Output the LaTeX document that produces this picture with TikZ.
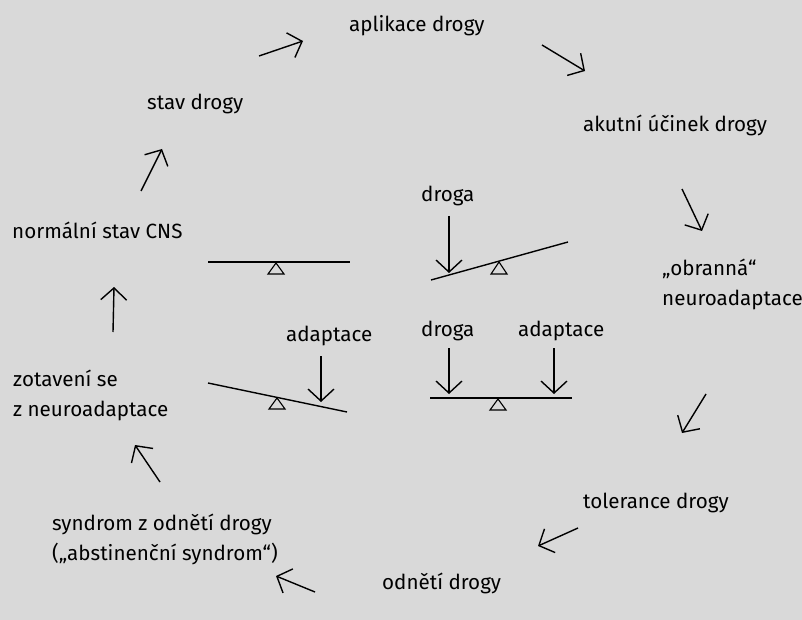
\documentclass[tikz,border=0pt]{standalone}
\usepackage{fontspec}
\setmainfont{Fira Sans}
\usetikzlibrary{arrows.meta}
\definecolor{bggray}{HTML}{D9D9D9}
\begin{document}
\begin{tikzpicture}[x=1pt,y=-1pt,
  txt/.style={anchor=base west,inner sep=0pt,align=left,font=\fontsize{20.6}{29.5}\selectfont},
  cyc/.style={-{Straight Barb[length=12pt,width=26pt]},line width=1.4pt},
  beam/.style={line width=1.4pt},
  pivot/.style={draw,line width=1.1pt}]
\fill[bggray] (0,0) rectangle (802,620);
\useasboundingbox (0,0) rectangle (802,620);
% cycle labels (multi-line: base = last line)
\node[txt] (apl) at (349,32) {aplikace drogy};
\node[txt] (aku) at (583,132) {akutní účinek drogy};
\node[txt] (obr) at (662,305) {„obranná“\\neuroadaptace};
\node[txt] (tol) at (583,508) {tolerance drogy};
\node[txt] (odn) at (382,589) {odnětí drogy};
\node[txt] (syn) at (52,560) {syndrom z odnětí drogy\\(„abstinenční syndrom“)};
\node[txt] (zot) at (13,416) {zotavení se\\z neuroadaptace};
\node[txt] (nor) at (12,238) {normální stav CNS};
\node[txt] (sta) at (147,110) {stav drogy};
% seesaw labels
\node[txt] (dr1) at (421,202) {droga};
\node[txt] (dr2) at (421,336) {droga};
\node[txt] (ad1) at (518,336) {adaptace};
\node[txt] (ad2) at (286,341) {adaptace};
% cycle arrows
\coordinate (a1) at (259,56);  \coordinate (b1) at (303,41);
\coordinate (a2) at (542,45);  \coordinate (b2) at (585,71);
\coordinate (a3) at (682,189); \coordinate (b3) at (702,231);
\coordinate (a4) at (706,394); \coordinate (b4) at (682,433);
\coordinate (a5) at (578,528); \coordinate (b5) at (538,546);
\coordinate (a6) at (315,592); \coordinate (b6) at (276,576);
\coordinate (a7) at (160,482); \coordinate (b7) at (135,445);
\coordinate (a8) at (113,332); \coordinate (b8) at (114,287);
\coordinate (a9) at (141,191); \coordinate (b9) at (162,149);
\foreach \i in {1,...,9}
  \draw[cyc] (a\i) -- (b\i);
% seesaws
\draw[beam] (208,262) -- (350,262);
\draw[pivot] (276,263) -- ++(-8,11) -- ++(16,0) -- cycle;
\draw[beam] (431,280) -- (568,242);
\draw[pivot] (499,262) -- ++(-8,12) -- ++(16,0) -- cycle;
\draw[beam] (208,383) -- (347,412);
\draw[pivot] (277,398) -- ++(-8,11) -- ++(16,0) -- cycle;
\draw[beam] (430,398) -- (572,398);
\draw[pivot] (498,399) -- ++(-8,11) -- ++(16,0) -- cycle;
% loads
\coordinate (l1) at (449,216); \coordinate (m1) at (449,273);
\coordinate (l2) at (449,348); \coordinate (m2) at (449,394);
\coordinate (l3) at (554,348); \coordinate (m3) at (554,394);
\coordinate (l4) at (321,356); \coordinate (m4) at (321,402);
\foreach \i in {1,...,4}
  \draw[cyc] (l\i) -- (m\i);
\end{tikzpicture}
\end{document}
